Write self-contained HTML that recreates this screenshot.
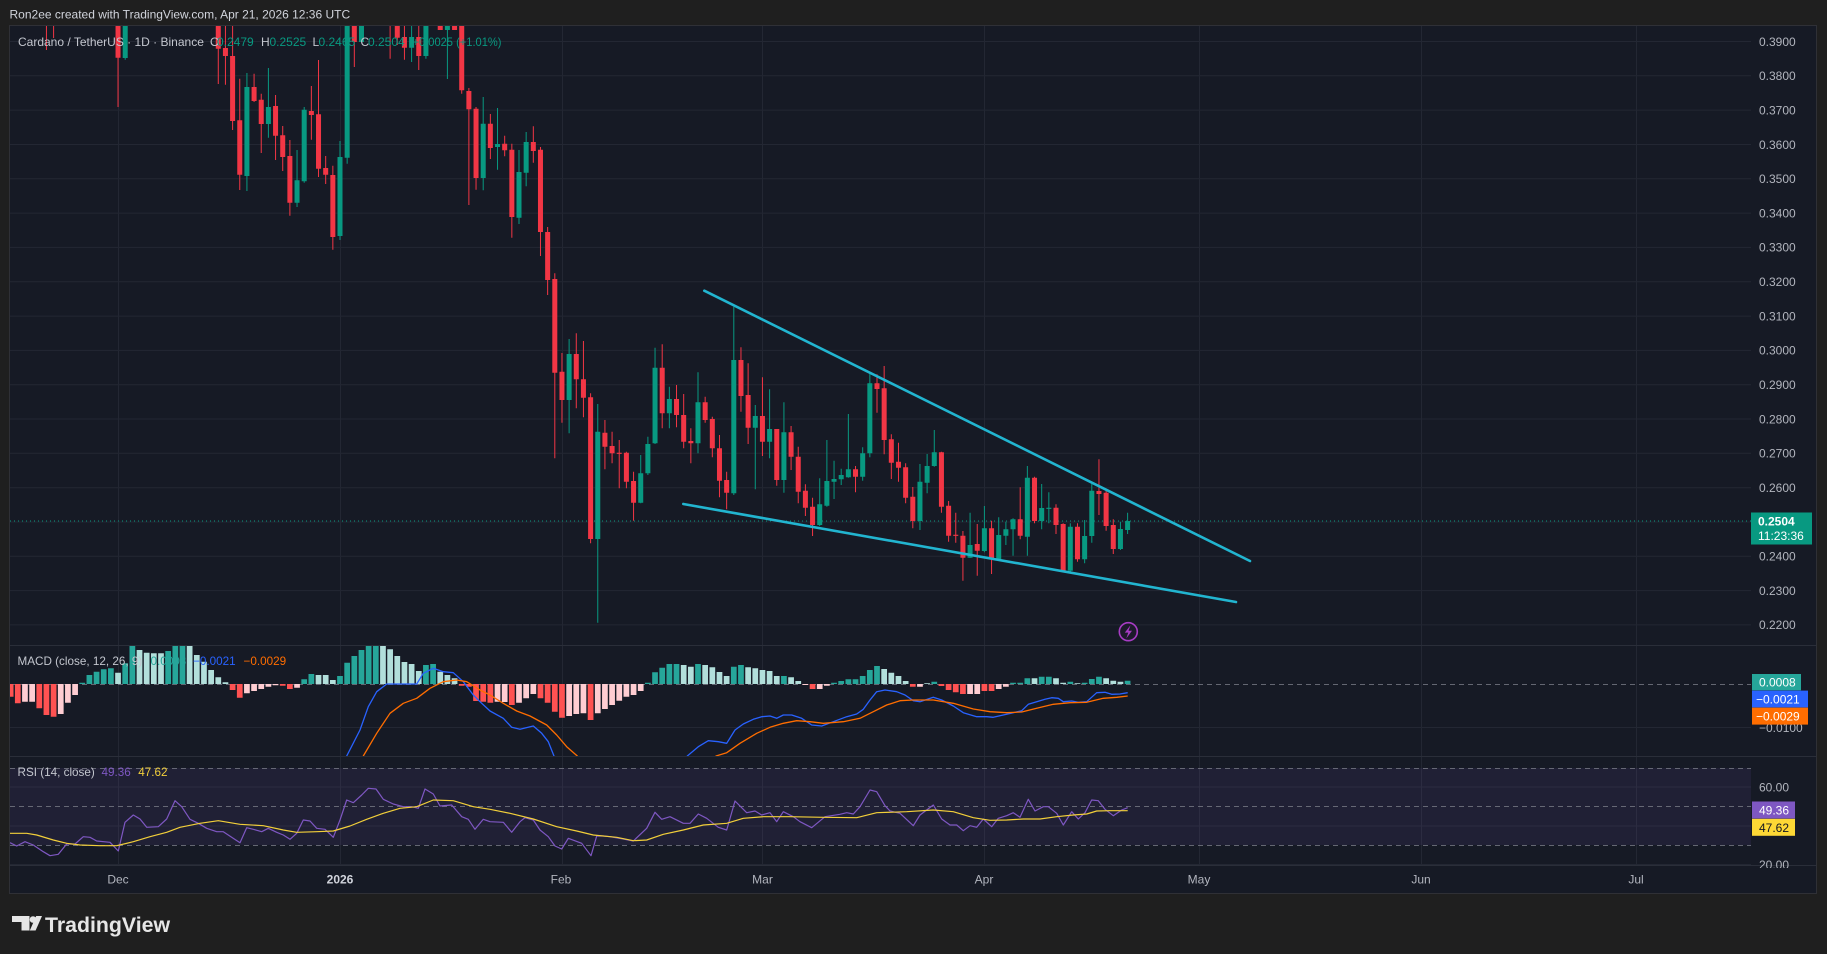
<!DOCTYPE html>
<html><head><meta charset="utf-8"><style>
html,body{margin:0;padding:0;background:#1f1f1f;width:1827px;height:954px;overflow:hidden}
svg{display:block}
text{font-family:"Liberation Sans",Arial,sans-serif}
</style></head><body>
<svg width="1827" height="954" viewBox="0 0 1827 954" xmlns="http://www.w3.org/2000/svg">
<defs>
<clipPath id="cMain"><rect x="10" y="26" width="1741" height="619"/></clipPath>
<clipPath id="cMacd"><rect x="10" y="645" width="1741" height="111"/></clipPath>
<clipPath id="cRsi"><rect x="10" y="756" width="1741" height="109"/></clipPath>
<clipPath id="cAxisR"><rect x="1751" y="756" width="65" height="112"/></clipPath>
</defs>
<rect x="0" y="0" width="1827" height="954" fill="#1f1f1f"/>
<text x="9.5" y="18.3" font-size="12" fill="#d1d4dc">Ron2ee created with TradingView.com, Apr 21, 2026 12:36 UTC</text>
<rect x="10" y="26" width="1806" height="867" fill="#161a25"/>
<rect x="9.5" y="25.5" width="1807" height="868" fill="none" stroke="#2f3036"/>

<!-- grid -->
<g stroke="#232733" stroke-width="1">
<path d="M118.5 26V865M340.5 26V865M562.5 26V865M762.5 26V865M984.5 26V865M1199.5 26V865M1421.5 26V865M1636.5 26V865"/>
<path d="M10 41.5H1751M10 75.8H1751M10 110.1H1751M10 144.5H1751M10 178.8H1751M10 213.1H1751M10 247.4H1751M10 281.7H1751M10 316.1H1751M10 350.4H1751M10 384.7H1751M10 419H1751M10 453.3H1751M10 487.7H1751M10 522H1751M10 556.3H1751M10 590.6H1751M10 624.9H1751"/>
<path d="M10 727.5H1751M10 787H1751M10 826H1751M10 864.5H1751"/>
</g>
<path d="M10 645.5H1816M10 756.5H1816M10 865.5H1816" stroke="#2a2e39" stroke-width="1"/>

<!-- MAIN PANE -->
<g clip-path="url(#cMain)">
<path d="M10 521H1751" stroke="#089981" stroke-width="1" stroke-dasharray="1 3"/>
<g transform="translate(340 0) scale(7.16 1)">
<path fill="none" stroke="#089981" stroke-width="1" vector-effect="non-scaling-stroke" d="M-30 20V59.7M-13 73V191M-10 68V137.7M-6 150V207M-5 107V182.7M0 141V240M1 20V163.7M10 20V62M12 20V58.7M15 20V79M20 97V190.3M22 108V169.7M25 150V224M26 132V186.3M32 339V433.3M36 404V622.7M42 455V503.3M43 436.7V475M44 347.7V444M46 386.7V428.3M50 372.3V453.3M55 306.7V495M58 405V489.3M60 389.3V458.3M62 402.3V492.7M67 478.3V526M68 440V506.7M69 460.7V499M70 468.7V485M71 414V477.7M73 447.3V480.7M74 373.3V457.3M81 464V530M82 454V493.3M83 430V466.7M88 512.7V558M90 506V552.3M92 517.3V560M93 521.7V545M94 518.3V555.7M96 466V555.7M98 484V529.3M99 492.3V523.3M102 523.3V571.7M104 520V563.3M105 484V542.7M109 521.7V550M110 512.7V534"/>
<path fill="#089981" d="M-30.35 20h.7V58h-.7zM-13.35 87h.7V176h-.7zM-10.35 107h.7V124h-.7zM-6.35 180.3h.7V202.7h-.7zM-5.35 109.7h.7V181.3h-.7zM-.35 157h.7V236h-.7zM.65 20h.7V157.7h-.7zM2.65 20h.7V42h-.7zM9.65 37h.7V47.7h-.7zM11.65 20h.7V56h-.7zM14.65 20h.7V30h-.7zM19.65 123.7h.7V178h-.7zM21.65 144h.7V147h-.7zM24.65 172h.7V217.7h-.7zM25.65 142h.7V172.7h-.7zM31.65 354h.7V400h-.7zM35.65 431.7h.7V539h-.7zM41.65 473.3h.7V502.7h-.7zM42.65 444h.7V473.3h-.7zM43.65 367.7h.7V443.3h-.7zM45.65 399h.7V413.3h-.7zM49.65 402.3h.7V443.3h-.7zM54.65 360h.7V493.3h-.7zM57.65 416h.7V427.7h-.7zM59.65 429h.7V441.7h-.7zM61.65 432.3h.7V480h-.7zM66.65 504.3h.7V525h-.7zM67.65 481h.7V505.7h-.7zM68.65 479h.7V481.7h-.7zM69.65 475h.7V479.3h-.7zM70.65 469.3h.7V477.3h-.7zM72.65 453.3h.7V476.7h-.7zM73.65 383.3h.7V453.3h-.7zM80.65 481.7h.7V521h-.7zM81.65 466h.7V482.7h-.7zM82.65 452.3h.7V466h-.7zM87.65 545h.7V557.7h-.7zM89.65 528.3h.7V551h-.7zM91.65 535h.7V559h-.7zM92.65 529.3h.7V535.7h-.7zM93.65 519.3h.7V529.3h-.7zM95.65 477.7h.7V536.7h-.7zM97.65 508h.7V521h-.7zM98.65 507.7h.7V508.9h-.7zM101.65 526.7h.7V570.7h-.7zM103.65 536h.7V559.3h-.7zM104.65 490.7h.7V536h-.7zM108.65 529h.7V549h-.7zM109.65 521h.7V530h-.7z"/>
<path fill="none" stroke="#f23645" stroke-width="1" vector-effect="non-scaling-stroke" d="M-41 20V50M-40 20V38M-31 20V107M-17 20V84M-16 20V84.7M-15 20V130M-14 78.7V190M-12 73.7V102M-11 93.7V153M-9 95V160M-8 126V171M-7 140V215.7M-4 86V139.7M-3 60V177M-2 156V184M-1 165.7V249.7M2 20V67M7 20V58.7M8 20V45M9 20V59.7M11 20V70M17 20V93.7M18 88V205M19 107V189.7M21 114V159M23 135.7V156.3M24 143.7V237.7M27 126.3V162.7M28 147V256M29 227V295M30 273.3V458.3M31 353V422.7M33 333.3V408.3M34 341V417.3M35 393.3V543.3M37 420V469.3M38 431.7V463.3M39 440V488.3M40 451.7V488.3M41 471.7V520.7M45 344.3V428.3M47 385V427.3M48 394V448.3M49 428.3V463.3M51 396.7V422.7M52 416.7V457.3M53 435V497.3M54 471.7V509.3M56 347.3V411.7M57 363.3V444M59 377.3V456M61 429V485.7M63 426V470M64 446.7V503.3M65 484.3V516M66 497.7V536M72 466V492.3M75 374.3V412.7M76 366V454.3M77 434.3V479M78 442.7V481.7M79 463.3V503.3M80 487V528.3M84 451.7V512.7M85 501V541.7M86 512.7V542.7M87 531V580.7M89 524V575.7M91 520.7V574M95 487.3V539.3M97 476.7V523.3M100 504.3V534M101 523.3V571.7M103 523.3V561.7M106 459.3V515M107 491V530.7M108 519.3V554"/>
<path fill="#f23645" d="M-31.35 20h.7V57.7h-.7zM-17.35 20h.7V48.7h-.7zM-16.35 48h.7V56h-.7zM-15.35 56h.7V121h-.7zM-14.35 120.3h.7V174.7h-.7zM-12.35 87h.7V101h-.7zM-11.35 99.7h.7V124h-.7zM-9.35 106h.7V135.7h-.7zM-8.35 135.3h.7V157h-.7zM-7.35 156h.7V202.7h-.7zM-4.35 111h.7V115h-.7zM-3.35 114.3h.7V168.7h-.7zM-2.35 168h.7V174.7h-.7zM-1.35 175h.7V237h-.7zM1.65 20h.7V42h-.7zM7.65 20h.7V37.7h-.7zM8.65 37h.7V47.7h-.7zM10.65 37h.7V56h-.7zM13.65 20h.7V30h-.7zM15.65 20h.7V30h-.7zM16.65 20h.7V90.3h-.7zM17.65 91h.7V109.3h-.7zM18.65 108.7h.7V178h-.7zM20.65 123.7h.7V148h-.7zM22.65 143.7h.7V150.3h-.7zM23.65 149.7h.7V217h-.7zM26.65 142h.7V151h-.7zM27.65 149.7h.7V232h-.7zM28.65 232h.7V280h-.7zM29.65 279h.7V372.7h-.7zM30.65 371.7h.7V400h-.7zM32.65 354h.7V379.3h-.7zM33.65 379.3h.7V397.7h-.7zM34.65 397.3h.7V539h-.7zM36.65 432.7h.7V446.7h-.7zM37.65 446h.7V453.3h-.7zM38.65 452.7h.7V453.9h-.7zM39.65 452.7h.7V481.7h-.7zM40.65 481h.7V502.7h-.7zM44.65 367.7h.7V413.3h-.7zM46.65 399h.7V415h-.7zM47.65 415h.7V441.7h-.7zM48.65 441h.7V443.3h-.7zM50.65 402.3h.7V420h-.7zM51.65 419h.7V448.3h-.7zM52.65 448.3h.7V480.7h-.7zM53.65 480h.7V492.7h-.7zM55.65 360h.7V396h-.7zM56.65 395h.7V427.7h-.7zM58.65 416h.7V441.7h-.7zM60.65 429h.7V480h-.7zM62.65 432.3h.7V456.7h-.7zM63.65 456.7h.7V491.7h-.7zM64.65 490.7h.7V507.7h-.7zM65.65 506.7h.7V525h-.7zM71.65 469.3h.7V476.7h-.7zM74.65 383.3h.7V389h-.7zM75.65 388.3h.7V440h-.7zM76.65 439.3h.7V462.7h-.7zM77.65 461.7h.7V467.7h-.7zM78.65 467.3h.7V497.7h-.7zM79.65 496.7h.7V521h-.7zM83.65 452.3h.7V506.7h-.7zM84.65 505.7h.7V535.7h-.7zM85.65 534.7h.7V535.9h-.7zM86.65 535.7h.7V557.7h-.7zM88.65 544h.7V550.7h-.7zM90.65 528.3h.7V559h-.7zM94.65 519.3h.7V535.7h-.7zM96.65 477.7h.7V521h-.7zM99.65 507.7h.7V525h-.7zM100.65 524h.7V570.7h-.7zM102.65 526.7h.7V559.3h-.7zM105.65 491h.7V494h-.7zM106.65 492.7h.7V526h-.7zM107.65 525h.7V549h-.7z"/>
</g>
<line x1="704.3" y1="290.7" x2="1250" y2="561" stroke="#22b5d0" stroke-width="2.6" stroke-linecap="round"/>
<line x1="683.3" y1="504" x2="1236" y2="602" stroke="#22b5d0" stroke-width="2.6" stroke-linecap="round"/>
<circle cx="1128.3" cy="631.7" r="9" fill="#1d1a2b" stroke="#a73cc4" stroke-width="1.6"/>
<path d="M1130.5 625.2L1124.8 632.6H1128.3L1126.3 638.4L1132 630.8H1128.5Z" fill="#a73cc4"/>
</g>
<!-- legend main -->
<g font-size="12">
<text x="18" y="46.2" fill="#c3c6ce">Cardano / TetherUS · 1D · Binance</text>
<text x="210" y="46.2" fill="#c3c6ce">O</text><text x="217" y="46.2" fill="#089981">0.2479</text>
<text x="261" y="46.2" fill="#c3c6ce">H</text><text x="269.5" y="46.2" fill="#089981">0.2525</text>
<text x="312.5" y="46.2" fill="#c3c6ce">L</text><text x="318.5" y="46.2" fill="#089981">0.2465</text>
<text x="360.5" y="46.2" fill="#c3c6ce">C</text><text x="368" y="46.2" fill="#089981">0.2504</text>
<text x="412.5" y="46.2" fill="#089981" textLength="89" lengthAdjust="spacingAndGlyphs">+0.0025 (+1.01%)</text>
</g>

<!-- MACD PANE -->
<g clip-path="url(#cMacd)">
<path d="M10 684.5H1751" stroke="#787b86" stroke-width="1" stroke-dasharray="5 4" opacity="0.8"/>
<g transform="translate(340 0) scale(7.16 1)">
<path fill="#26a69a" d="M-36.4 684h.8V682.7h-.8zM-35.4 684h.8V675h-.8zM-34.4 684h.8V671.7h-.8zM-33.4 684h.8V669.3h-.8zM-32.4 684h.8V668.3h-.8zM-30.4 684h.8V663.3h-.8zM-29.4 684h.8V646h-.8zM-24.4 684h.8V651h-.8zM-23.4 684h.8V646h-.8zM-22.4 684h.8V646h-.8zM-5.4 684h.8V679.3h-.8zM-4.4 684h.8V674h-.8zM-.4 684h.8V676h-.8zM.6 684h.8V662.7h-.8zM1.6 684h.8V656h-.8zM2.6 684h.8V650h-.8zM3.6 684h.8V646h-.8zM4.6 684h.8V646h-.8zM11.6 684h.8V665h-.8zM12.6 684h.8V664h-.8zM42.6 684h.8V682.7h-.8zM43.6 684h.8V672.3h-.8zM44.6 684h.8V667.7h-.8zM45.6 684h.8V664h-.8zM46.6 684h.8V664h-.8zM49.6 684h.8V664h-.8zM54.6 684h.8V666.7h-.8zM55.6 684h.8V665h-.8zM61.6 684h.8V676h-.8zM68.6 684h.8V682.7h-.8zM69.6 684h.8V681h-.8zM70.6 684h.8V679.3h-.8zM71.6 684h.8V679.3h-.8zM72.6 684h.8V676h-.8zM73.6 684h.8V670h-.8zM74.6 684h.8V666h-.8zM82.6 684h.8V681.7h-.8zM93.6 684h.8V682.7h-.8zM94.6 684h.8V682.7h-.8zM95.6 684h.8V678.3h-.8zM97.6 684h.8V676.7h-.8zM98.6 684h.8V676.7h-.8zM101.6 684h.8V681.7h-.8zM103.6 684h.8V682.7h-.8zM104.6 684h.8V679h-.8zM105.6 684h.8V676.7h-.8zM109.6 684h.8V680.7h-.8z"/>
<path fill="#b2dfdb" d="M-31.4 684h.8V672.7h-.8zM-28.4 684h.8V650h-.8zM-27.4 684h.8V652.7h-.8zM-26.4 684h.8V653.3h-.8zM-25.4 684h.8V653.3h-.8zM-21.4 684h.8V646h-.8zM-20.4 684h.8V655h-.8zM-19.4 684h.8V661.7h-.8zM-18.4 684h.8V670h-.8zM-17.4 684h.8V677.3h-.8zM-16.4 684h.8V682.3h-.8zM-3.4 684h.8V675h-.8zM-2.4 684h.8V675h-.8zM-1.4 684h.8V680h-.8zM5.6 684h.8V646h-.8zM6.6 684h.8V649.3h-.8zM7.6 684h.8V656h-.8zM8.6 684h.8V662h-.8zM9.6 684h.8V664h-.8zM10.6 684h.8V671h-.8zM13.6 684h.8V671.7h-.8zM14.6 684h.8V675h-.8zM15.6 684h.8V678.3h-.8zM47.6 684h.8V665h-.8zM48.6 684h.8V666.7h-.8zM50.6 684h.8V665h-.8zM51.6 684h.8V667.3h-.8zM52.6 684h.8V672h-.8zM53.6 684h.8V676h-.8zM56.6 684h.8V667.3h-.8zM57.6 684h.8V668.3h-.8zM58.6 684h.8V670h-.8zM59.6 684h.8V671h-.8zM60.6 684h.8V676h-.8zM62.6 684h.8V677.3h-.8zM63.6 684h.8V681h-.8zM75.6 684h.8V669h-.8zM76.6 684h.8V672.7h-.8zM77.6 684h.8V676h-.8zM78.6 684h.8V681h-.8zM81.6 684h.8V683.3h-.8zM96.6 684h.8V678.3h-.8zM99.6 684h.8V678.3h-.8zM100.6 684h.8V682.7h-.8zM102.6 684h.8V683.3h-.8zM106.6 684h.8V678.3h-.8zM107.6 684h.8V680.7h-.8zM108.6 684h.8V681.7h-.8z"/>
<path fill="#ff5252" d="M-46.4 684h.8V696.7h-.8zM-45.4 684h.8V703.3h-.8zM-42.4 684h.8V708.3h-.8zM-41.4 684h.8V715h-.8zM-40.4 684h.8V716.7h-.8zM-15.4 684h.8V690h-.8zM-14.4 684h.8V697.7h-.8zM-8.4 684h.8V685.7h-.8zM-7.4 684h.8V689h-.8zM16.6 684h.8V685.7h-.8zM17.6 684h.8V686.7h-.8zM18.6 684h.8V701h-.8zM19.6 684h.8V701.7h-.8zM20.6 684h.8V702.7h-.8zM23.6 684h.8V705h-.8zM27.6 684h.8V698.3h-.8zM28.6 684h.8V702.7h-.8zM29.6 684h.8V711.7h-.8zM30.6 684h.8V717.7h-.8zM34.6 684h.8V720h-.8zM65.6 684h.8V689h-.8zM79.6 684h.8V686.7h-.8zM83.6 684h.8V686h-.8zM84.6 684h.8V690h-.8zM85.6 684h.8V692.3h-.8zM86.6 684h.8V694h-.8zM89.6 684h.8V691h-.8zM90.6 684h.8V691h-.8z"/>
<path fill="#ffcdd2" d="M-44.4 684h.8V701.7h-.8zM-43.4 684h.8V701.7h-.8zM-39.4 684h.8V714h-.8zM-38.4 684h.8V702.7h-.8zM-37.4 684h.8V695h-.8zM-13.4 684h.8V693.3h-.8zM-12.4 684h.8V691h-.8zM-11.4 684h.8V689h-.8zM-10.4 684h.8V686.7h-.8zM-9.4 684h.8V685.3h-.8zM-6.4 684h.8V687.7h-.8zM21.6 684h.8V701.7h-.8zM22.6 684h.8V702h-.8zM24.6 684h.8V702.7h-.8zM25.6 684h.8V698.3h-.8zM26.6 684h.8V694h-.8zM31.6 684h.8V716h-.8zM32.6 684h.8V714h-.8zM33.6 684h.8V713.3h-.8zM35.6 684h.8V713.3h-.8zM36.6 684h.8V709h-.8zM37.6 684h.8V705h-.8zM38.6 684h.8V700.7h-.8zM39.6 684h.8V696.7h-.8zM40.6 684h.8V695h-.8zM41.6 684h.8V691h-.8zM64.6 684h.8V685h-.8zM66.6 684h.8V689h-.8zM67.6 684h.8V685.7h-.8zM80.6 684h.8V686.7h-.8zM87.6 684h.8V694h-.8zM88.6 684h.8V694h-.8zM91.6 684h.8V689h-.8zM92.6 684h.8V686.7h-.8z"/>
</g>
<polyline fill="none" stroke="#2962ff" stroke-width="1.3" stroke-linejoin="round" points="340,780 346.7,756 360,730 368.3,706.7 376.7,691.7 386.7,684 416.7,684 423.3,673.3 433.3,668.3 443.3,671.7 453.3,672.7 463.3,681.7 473.3,695 480,701.7 490,711 503.3,718.3 511.7,727.3 520,729.3 533.3,726 541.7,733.3 548.3,741.7 554,756 560,780 680,780 687.3,756 698.3,746.7 708.3,740.7 718.3,741.7 726.7,743.3 735,730 743.3,724 753.3,719.3 761.7,716.7 770,716 776.7,718.3 783.3,715 791.7,715 801.7,718.3 811.7,725 821.7,726 833.3,721.7 846.7,716.7 856.7,714 863.3,709.3 870,700 876.7,691.7 885,690 896.7,691.7 905,695 913.3,700.7 920,701.7 933.3,697.3 941.7,700 953.3,706 963.3,712.7 976.7,716.7 986.7,716.7 993.3,717.3 1003.3,715 1013.3,712.7 1021.7,710.7 1028.3,704.3 1036.7,701.7 1045,699.3 1051.7,697.7 1058.3,698.3 1063.3,701.7 1071.7,701 1078.3,702.3 1086.7,701.7 1096.7,692.7 1105,692.3 1111.7,694.3 1120,694 1127.7,692.7"/>
<polyline fill="none" stroke="#ff6d00" stroke-width="1.3" stroke-linejoin="round" points="355,780 363.3,756 376.7,733.3 390,713.3 403.3,703.3 416.7,698.3 430,688.3 443.3,681.7 456.7,680 466.7,681.7 480,690 490,695 503.3,703.3 516.7,711 530,716 546.7,725 556.7,735 566.7,746.7 577.3,756 590,780 705,780 716,756 726.7,752.7 740,743.3 756.7,733.3 770,727.3 783.3,723.3 796.7,720.7 810,721.7 823.3,723.3 843.3,721.7 860,718.3 873.3,711.7 886.7,705 900,700.7 913.3,700 933.3,700 953.3,703.3 973.3,709 990,711.7 1006.7,712.7 1021.7,712 1036.7,708.3 1053.3,704.3 1070,702.7 1086.7,702.3 1103.3,698.3 1116.7,697.3 1127.7,696"/>
</g>
<g font-size="11.7">
<text x="17.5" y="665" fill="#c3c6ce">MACD (close, 12, 26, 9)</text>
<text x="150.5" y="665" fill="#26a69a">0.0008</text>
<text x="193" y="665" fill="#2962ff">−0.0021</text>
<text x="243.5" y="665" fill="#ff6d00">−0.0029</text>
</g>

<!-- RSI PANE -->
<g clip-path="url(#cRsi)">
<rect x="10" y="768" width="1741" height="77" fill="#7e57c2" fill-opacity="0.1"/>
<path d="M10 768.5H1751M10 806.5H1751M10 845.5H1751" stroke="#787b86" stroke-width="1" stroke-dasharray="5 4" opacity="0.8"/>
<polyline fill="none" stroke="#7e57c2" stroke-width="1.2" stroke-linejoin="round" points="10,842.7 16.7,846 25,841.7 33.3,845 43.3,851.7 50,855.7 58.3,854.3 66.7,844 75,844 83.3,836.7 90,837.3 96.7,841 110,842.3 118.3,851 125,822.3 133.3,815 140,819 146.7,827.3 158.3,826.7 166.7,819 175,800.7 181.7,806.7 190,819.3 198.3,823.3 206.7,828.3 216.7,831.7 223.3,831.7 240,842.7 246.7,827.7 253.3,829.3 261.7,831.7 268.3,828.3 276.7,832.3 283.3,835 290,839.3 296.7,833.3 303.3,820 310,821 316.7,828.3 325,829.3 333.3,837.3 340,820 346.7,800 353.3,802.7 361.7,795 368.3,788.3 376,789 383.3,799.3 393.3,804 403.3,806.7 411.7,806.7 418.3,808.3 425,789 433.3,794 440,806 451.7,805 461.7,816.7 468.3,819.3 475,829.3 483.3,819.3 490,821.7 503.3,822.3 511.7,832.3 520,821.7 525,817.7 533.3,820 540,830 548.3,836.7 555,846 561.7,849 568.3,838.3 581.7,843.3 591,855.7 596.7,836 603.3,836 610,836.7 623.3,839 633.3,841 646.7,828.3 655,812.3 661.7,819.3 670,816.7 683.3,823.3 690,823.3 698.3,814 706.7,818.3 718.3,827.3 726.7,830 735,801 746.7,812.7 755,811 761.7,815 770,812.7 776.7,821.7 783.3,811.7 793.3,816.7 800,821.7 811.7,827.7 825,816.7 840,814.3 846.7,812.7 853.3,814 860,806.7 870,790 876.7,791.7 885,805.7 890,811 900,813.3 913.3,825.7 920,815 933.3,805 941.7,819 950,825 956.7,825 963.3,830.7 970,825.7 976.7,827.3 983.3,819 991.7,826.7 998.3,818.3 1006.7,815.7 1013.3,812.7 1020,817.3 1028.3,799.3 1035,811 1043.3,806.7 1048.3,806.7 1056.7,813.3 1063.3,825 1071.7,811.7 1078.3,819 1085,812.7 1091.7,800 1098.3,800.7 1105,809.3 1113.3,815.7 1121.7,810 1127.7,807.7"/>
<polyline fill="none" stroke="#f2cf3a" stroke-width="1.2" stroke-linejoin="round" points="10,833.3 26.7,833.3 36.7,835 53.3,840 66.7,843.3 80,845 100,845.7 116.7,845.7 133.3,841.7 150,836.7 166.7,832.3 180,827.3 200,823.3 218.3,820.7 240,824.3 263.3,825.7 283.3,830 296.7,832.3 316.7,831.7 333.3,831 350,826 366.7,819.3 383.3,813.3 400,808.3 416.7,806.7 433.3,800 453.3,800.7 473.3,806.7 490,809.3 510,813.3 533.3,819 556.7,826.7 576.7,831 593.3,835 616.7,837.3 633.3,840.7 646.7,840 663.3,834.3 683.3,830 703.3,825 726.7,823.3 743.3,818.3 763.3,816.7 790,816.7 823.3,817.3 856.7,817.7 876.7,812.7 906.7,811.7 933.3,810 953.3,811.7 973.3,817.7 990,820.3 1006.7,820 1023.3,819 1040,819 1056.7,816.7 1073.3,815 1086.7,814 1096.7,811 1110,810.7 1127.7,810.7"/>
</g>
<g font-size="11.7">
<text x="17.5" y="776" fill="#c3c6ce">RSI (14, close)</text>
<text x="101.5" y="776" fill="#7e57c2">49.36</text>
<text x="138.3" y="776" fill="#f2cf3a">47.62</text>
</g>

<!-- PRICE AXIS -->
<g font-size="12" fill="#b2b5be">
<text x="1759" y="45.8">0.3900</text>
<text x="1759" y="80.1">0.3800</text>
<text x="1759" y="114.4">0.3700</text>
<text x="1759" y="148.8">0.3600</text>
<text x="1759" y="183.1">0.3500</text>
<text x="1759" y="217.4">0.3400</text>
<text x="1759" y="251.7">0.3300</text>
<text x="1759" y="286">0.3200</text>
<text x="1759" y="320.4">0.3100</text>
<text x="1759" y="354.7">0.3000</text>
<text x="1759" y="389">0.2900</text>
<text x="1759" y="423.3">0.2800</text>
<text x="1759" y="457.6">0.2700</text>
<text x="1759" y="492">0.2600</text>
<text x="1759" y="560.6">0.2400</text>
<text x="1759" y="594.9">0.2300</text>
<text x="1759" y="629.2">0.2200</text>
<text x="1759" y="731.8">−0.0100</text>
<text x="1759" y="791.3">60.00</text>
<g clip-path="url(#cAxisR)"><text x="1759" y="869">20.00</text></g>
</g>
<rect x="1751" y="512.5" width="61" height="32" fill="#089981"/>
<text x="1758" y="525.5" font-size="12" font-weight="bold" fill="#ffffff">0.2504</text>
<text x="1758" y="540" font-size="12" fill="#ffffff">11:23:36</text>

<rect x="1752" y="674" width="49" height="16.3" fill="#26a69a"/>
<text x="1759" y="686.5" font-size="12" fill="#ffffff">0.0008</text>
<rect x="1752" y="690.6" width="56" height="16.8" fill="#2962ff"/>
<text x="1756" y="703.5" font-size="12" fill="#ffffff">−0.0021</text>
<rect x="1752" y="707.6" width="56" height="17" fill="#ff6d00"/>
<text x="1756" y="720.5" font-size="12" fill="#ffffff">−0.0029</text>

<rect x="1752" y="801.5" width="43" height="17" fill="#7e57c2"/>
<text x="1759" y="814.5" font-size="12" fill="#ffffff">49.36</text>
<rect x="1752" y="818.8" width="43" height="17" fill="#fdd835"/>
<text x="1759" y="831.8" font-size="12" fill="#131722">47.62</text>

<!-- TIME AXIS -->
<g font-size="12" fill="#b2b5be" text-anchor="middle">
<text x="118" y="883.5">Dec</text>
<text x="340" y="883.5" font-weight="bold" fill="#d1d4dc">2026</text>
<text x="561" y="883.5">Feb</text>
<text x="762.5" y="883.5">Mar</text>
<text x="984" y="883.5">Apr</text>
<text x="1199" y="883.5">May</text>
<text x="1421" y="883.5">Jun</text>
<text x="1636" y="883.5">Jul</text>
</g>

<!-- LOGO -->
<g fill="#e6e6e6">
<path d="M12 916H29.5V930.5H21.5V922H12Z"/>
<circle cx="33" cy="919.5" r="3.3"/>
<path d="M36.2 916H42L35.6 930.5H29.8Z"/>
</g>
<text x="45" y="932" font-size="21.3" font-weight="bold" fill="#e6e6e6">TradingView</text>
</svg>
</body></html>
